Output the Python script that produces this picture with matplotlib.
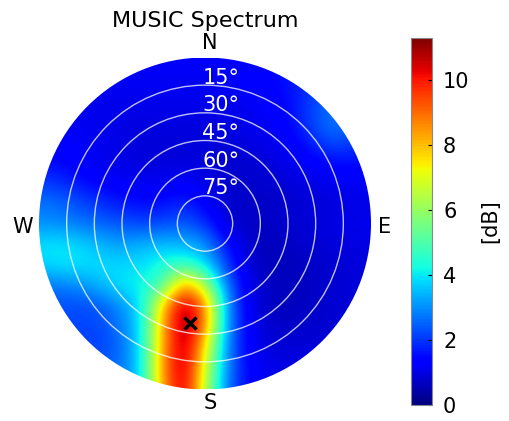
import numpy as np
import matplotlib
matplotlib.use('Agg')
from matplotlib import pyplot as plt
from matplotlib.patches import Circle

plt.rcParams['font.family'] = ['DejaVu Sans']

# MUSIC spectrum [dB] on a 17x17 grid over the unit disc
# rows: top (N) to bottom (S), columns: W to E
spectrum_db = np.array([
    [1.2, 1.2, 1.2, 1.2, 1.2, 1.2, 1.2, 1.2, 1.2, 1.2, 1.3, 1.4, 1.5, 1.7, 1.9, 1.9, 1.9],
    [1.2, 1.2, 1.2, 1.2, 1.2, 1.2, 1.2, 1.2, 1.2, 1.2, 1.3, 1.4, 1.6, 1.9, 2.1, 2.1, 2.1],
    [1.2, 1.2, 1.1, 1.1, 1.1, 1.1, 1.1, 1.1, 1.1, 1.1, 1.2, 1.3, 1.5, 2.0, 2.5, 2.5, 2.5],
    [1.2, 1.2, 1.1, 1.1, 1.0, 1.0, 1.0, 1.0, 1.0, 1.0, 1.1, 1.2, 1.4, 2.1, 2.8, 2.7, 2.5],
    [1.3, 1.3, 1.2, 1.1, 1.0, 0.9, 0.9, 0.9, 0.9, 0.9, 1.0, 1.1, 1.3, 1.7, 2.4, 2.2, 1.9],
    [1.5, 1.4, 1.3, 1.1, 1.0, 0.9, 0.9, 0.9, 0.9, 0.8, 0.8, 0.9, 1.1, 1.3, 1.5, 1.6, 1.5],
    [2.0, 1.9, 1.5, 1.3, 1.2, 1.1, 1.1, 1.2, 1.0, 0.8, 0.8, 0.8, 0.9, 1.0, 1.1, 1.2, 1.2],
    [2.7, 2.6, 2.2, 1.9, 1.6, 1.5, 1.5, 1.8, 1.3, 0.8, 0.7, 0.7, 0.8, 0.9, 0.9, 1.0, 1.0],
    [3.0, 2.9, 2.7, 2.5, 2.3, 2.1, 2.2, 2.4, 1.9, 0.9, 0.7, 0.7, 0.8, 0.9, 1.0, 1.1, 1.1],
    [3.9, 4.0, 3.8, 3.4, 3.2, 3.4, 3.5, 3.4, 3.1, 1.6, 0.8, 0.6, 0.7, 0.8, 0.9, 1.0, 1.0],
    [3.8, 4.0, 4.0, 3.9, 3.8, 3.9, 4.4, 4.6, 3.9, 2.1, 0.9, 0.6, 0.6, 0.7, 0.8, 0.9, 0.9],
    [2.7, 2.8, 3.0, 3.5, 4.0, 4.2, 4.9, 8.7, 6.5, 2.9, 1.1, 0.7, 0.6, 0.7, 0.8, 0.9, 0.9],
    [2.2, 2.3, 2.2, 2.4, 3.0, 4.0, 8.1, 11.2, 9.0, 3.2, 1.2, 0.7, 0.6, 0.7, 0.8, 0.9, 0.9],
    [2.1, 2.2, 2.2, 2.2, 2.8, 4.0, 8.4, 11.3, 8.8, 3.2, 1.3, 0.8, 0.7, 0.8, 0.8, 0.9, 0.9],
    [2.0, 2.1, 2.1, 2.1, 2.6, 4.0, 8.6, 11.1, 7.6, 3.0, 1.3, 0.9, 0.9, 0.9, 0.9, 0.9, 0.9],
    [2.2, 2.3, 2.4, 2.5, 2.7, 4.0, 8.8, 11.0, 6.9, 3.0, 1.4, 1.1, 1.0, 1.0, 1.0, 1.0, 1.0],
    [2.2, 2.3, 2.4, 2.5, 2.7, 4.0, 8.6, 10.8, 6.6, 2.8, 1.4, 1.1, 1.0, 1.0, 1.0, 1.0, 1.0],
])

elevations = [15, 30, 45, 60, 75]
directions = ['N', 'E', 'S', 'W']
peak_az = 188.5   # deg, clockwise from N
peak_el = 35.5    # deg
cmax = 11.3
cticks = [0, 2, 4, 6, 8, 10]

fig = plt.figure(figsize=(5.09, 4.21), dpi=100)
W, H = 509, 421
cx, cy, R = 205, 223.5, 166
ax = fig.add_axes([(cx - R) / W, (H - cy - R) / H, 2 * R / W, 2 * R / H])
ax.set_xlim(-1, 1)
ax.set_ylim(-1, 1)
ax.axis('off')

n = spectrum_db.shape[0]
half = 1.0 / (n - 1)
im = ax.imshow(spectrum_db, cmap='jet', vmin=0, vmax=cmax, origin='upper',
               extent=[-1 - half, 1 + half, -1 - half, 1 + half],
               interpolation='bicubic')
disc = Circle((0, 0), 1.0, transform=ax.transData, facecolor='none', edgecolor='none')
ax.add_patch(disc)
im.set_clip_path(disc)

for el in elevations:
    r = (90 - el) / 90
    ax.add_patch(Circle((0, 0), r, fill=False, edgecolor='white', alpha=0.75, lw=1.0))
    ax.text(0.095, r + 0.01, f'{el}°', color='white', fontsize=15,
            ha='center', va='baseline')

# peak marker
pr = (90 - peak_el) / 90
px = pr * np.sin(np.deg2rad(peak_az))
py = pr * np.cos(np.deg2rad(peak_az))
ax.plot(px, py, 'x', color='black', ms=8, mew=2.5)

pos = {'N': (0.03, 1.087), 'E': (1.081, -0.02), 'S': (0.03, -1.081), 'W': (-1.096, -0.02)}
for d in directions:
    ax.text(*pos[d], d, fontsize=15, ha='center', va='center', clip_on=False)

ax.text(0.0, 1.22, 'MUSIC Spectrum', fontsize=16, ha='center', va='center', clip_on=False)

cax = fig.add_axes([411 / W, (H - 405) / H, 21 / W, 367 / H])
cb = fig.colorbar(im, cax=cax, ticks=cticks)
cb.outline.set_edgecolor('#888888')
cb.outline.set_linewidth(0.8)
cax.tick_params(direction='in', length=3, labelsize=15, pad=8)
cb.set_label('[dB]', fontsize=15, labelpad=8)

fig.savefig('out.png', dpi=100)
